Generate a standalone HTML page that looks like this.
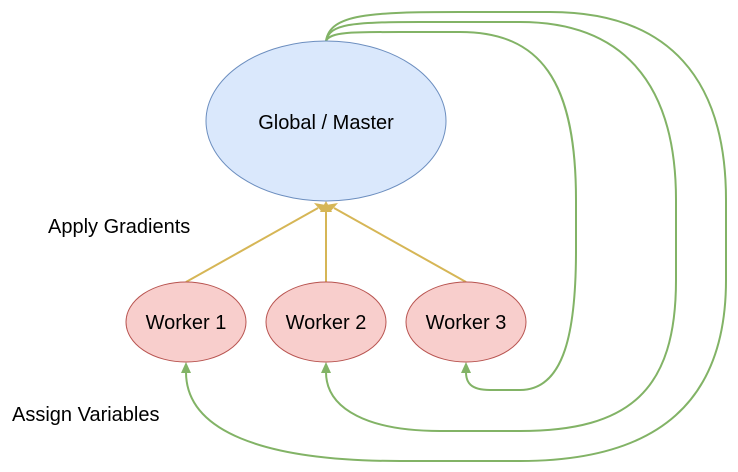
<!DOCTYPE html>
<html><head><meta charset="utf-8"><style>
html,body{margin:0;padding:0;background:#fff;width:738px;height:472px;overflow:hidden}
text{font-family:"Liberation Sans",Arial,sans-serif;font-size:20px;fill:#000}
</style></head><body>
<svg width="738" height="472" viewBox="0 0 738 472" xmlns="http://www.w3.org/2000/svg">
<g fill="none" stroke="#82b366" stroke-width="2">
<path d="M326,41 C330,32 350,32 400,32 L460,32 C540,32 576,80 576,200 L576,250 C576,330 565,390 520,390 L490,390 C470,390 466,382 466,372"/>
<path d="M326,41 C330,24 350,22 420,22 L520,22 C620,22 676,80 676,200 L676,280 C676,390 630,431 520,431 L440,431 C370,431 326,410 326,372"/>
<path d="M326,41 C330,14 370,12 460,12 L550,12 C670,12 726,80 726,200 L726,280 C726,400 660,461 520,461 L400,461 C260,461 186,430 186,372"/>
</g>
<g fill="#82b366">
<polygon points="466,362 461,373 471,373"/>
<polygon points="326,362 321,373 331,373"/>
<polygon points="186,362 181,373 191,373"/>
</g>
<g stroke="#d6b656" stroke-width="2" fill="none">
<line x1="186" y1="282" x2="318" y2="208"/>
<line x1="326" y1="282" x2="326" y2="210"/>
<line x1="466" y1="282" x2="334" y2="208"/>
</g>
<g fill="#d6b656">
<polygon points="326,201 320,212 332,212"/>
<polygon points="314,203 322,212 326,205"/>
<polygon points="338,203 330,212 326,205"/>
</g>
<ellipse cx="326" cy="121" rx="120" ry="80" fill="#dae8fc" stroke="#6c8ebf" stroke-width="1"/>
<text x="326" y="129" text-anchor="middle">Global / Master</text>
<ellipse cx="186" cy="322" rx="60" ry="40" fill="#f8cecc" stroke="#b85450" stroke-width="1"/>
<ellipse cx="326" cy="322" rx="60" ry="40" fill="#f8cecc" stroke="#b85450" stroke-width="1"/>
<ellipse cx="466" cy="322" rx="60" ry="40" fill="#f8cecc" stroke="#b85450" stroke-width="1"/>
<text x="186" y="329" text-anchor="middle">Worker 1</text>
<text x="326" y="329" text-anchor="middle">Worker 2</text>
<text x="466" y="329" text-anchor="middle">Worker 3</text>
<text x="48" y="233">Apply Gradients</text>
<text x="12" y="421">Assign Variables</text>
</svg>
</body></html>
